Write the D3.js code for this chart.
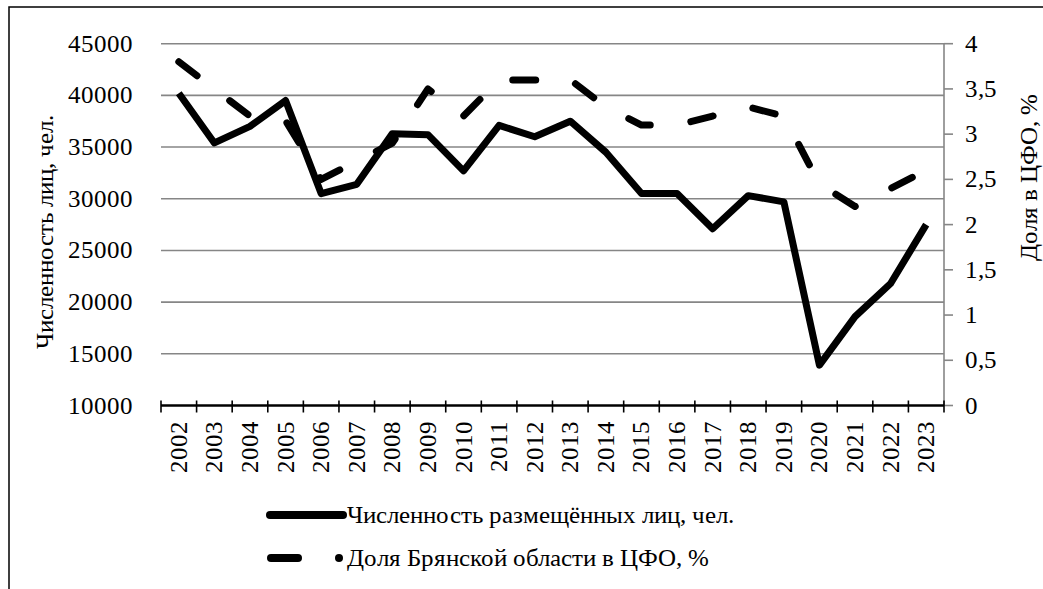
<!DOCTYPE html>
<html><head><meta charset="utf-8">
<script src="https://cdn.jsdelivr.net/npm/d3@7"></script>
<style>
@font-face { font-family: "ChartSerif"; src: local("Liberation Serif"), local("LiberationSerif"), local("LiberationSerif-Regular"), local("Times New Roman"); }
html,body{margin:0;padding:0;background:#fff;}
svg{display:block;}
svg text{font-family:"ChartSerif","Liberation Serif","Times New Roman",serif !important;}
</style></head>
<body>
<script>
const years = ["2002","2003","2004","2005","2006","2007","2008","2009","2010","2011","2012","2013","2014","2015","2016","2017","2018","2019","2020","2021","2022","2023"];
const persons = [40200,35400,37000,39500,30500,31400,36300,36200,32700,37100,36000,37500,34500,30500,30500,27100,30300,29700,13900,18600,21800,27500];
const share = [3.8,3.5,3.2,3.15,2.5,2.7,2.9,3.5,3.2,3.6,3.6,3.6,3.3,3.1,3.1,3.2,3.3,3.2,2.45,2.2,2.4,2.6];
const leftTicks = [10000,15000,20000,25000,30000,35000,40000,45000];
const rightTicks = [0,0.5,1,1.5,2,2.5,3,3.5,4];
const seriesNames = ["Численность размещённых лиц, чел.","Доля Брянской области в ЦФО, %"];
const leftTitle = "Численность лиц, чел.";
const rightTitle = "Доля в ЦФО, %";

const W = 1043, H = 589, FS = 25;
const FONT = '"ChartSerif", "Liberation Serif", "Times New Roman", serif';

const svg = d3.select("body").append("svg").attr("width",W).attr("height",H);

svg.append("rect").attr("x",9).attr("y",7).attr("width",1200).attr("height",800)
  .attr("fill","none").attr("stroke","#000").attr("stroke-width",1.5);

const x0 = 161, x1 = 944, yTop = 43.7, yBot = 405.5;
const x = d3.scaleBand().domain(years).range([x0,x1]);
const cx = d => x(d) + x.bandwidth()/2;
const yL = d3.scaleLinear().domain([10000,45000]).range([yBot,yTop]);
const yR = d3.scaleLinear().domain([0,4]).range([yBot,yTop]);

function txt(sel){ return sel.attr("font-size",FS).attr("font-family",FONT).style("font-family",FONT,"important"); }

// gridlines
svg.append("g").selectAll("line").data(leftTicks.filter(t=>t>10000)).join("line")
  .attr("x1",x0).attr("x2",x1).attr("y1",d=>yL(d)).attr("y2",d=>yL(d))
  .attr("stroke","#868686").attr("stroke-width",1.6);

// left tick labels
leftTicks.forEach(t=>{
  txt(svg.append("text").attr("x",133).attr("y",yL(t)+8).attr("text-anchor","end")).text(t);
});

// right axis
svg.append("line").attr("x1",x1).attr("x2",x1).attr("y1",yTop).attr("y2",yBot)
  .attr("stroke","#868686").attr("stroke-width",1.6);
svg.append("g").selectAll("line").data(rightTicks).join("line")
  .attr("x1",x1).attr("x2",x1+9).attr("y1",d=>yR(d)).attr("y2",d=>yR(d))
  .attr("stroke","#868686").attr("stroke-width",1.6);
rightTicks.forEach(t=>{
  txt(svg.append("text").attr("x",965).attr("y",yR(t)+8)).text(String(t).replace(".",","));
});

// x axis
svg.append("line").attr("x1",x0).attr("x2",x1).attr("y1",yBot).attr("y2",yBot)
  .attr("stroke","#000").attr("stroke-width",2.5);
const bounds = years.map(d=>x(d)).concat([x1]);
svg.append("g").selectAll("line").data(bounds).join("line")
  .attr("x1",d=>d).attr("x2",d=>d).attr("y1",yBot-5).attr("y2",yBot+7)
  .attr("stroke","#000").attr("stroke-width",1.6);
years.forEach(yv=>{
  txt(svg.append("text").attr("transform",`translate(${cx(yv)+8},421) rotate(-90)`)
    .attr("text-anchor","end")).text(yv);
});

// axis titles
txt(svg.append("text").attr("transform","translate(53,232) rotate(-90)")
  .attr("text-anchor","middle")).text(leftTitle);
txt(svg.append("text").attr("transform","translate(1037,177) rotate(-90)")
  .attr("text-anchor","middle")).text(rightTitle);

// lines
const lineL = d3.line().x((d,i)=>cx(years[i])).y(d=>yL(d));
const lineR = d3.line().x((d,i)=>cx(years[i])).y(d=>yR(d));
svg.append("path").attr("d",lineL(persons)).attr("fill","none").attr("stroke","#000")
  .attr("stroke-width",7).attr("stroke-linejoin","round").attr("stroke-linecap","butt");
svg.append("path").attr("d",lineR(share)).attr("fill","none").attr("stroke","#000")
  .attr("stroke-width",7).attr("stroke-linejoin","round").attr("stroke-linecap","round")
  .attr("stroke-dasharray","23 41");

// legend
svg.append("line").attr("x1",270).attr("x2",343).attr("y1",515).attr("y2",515)
  .attr("stroke","#000").attr("stroke-width",8).attr("stroke-linecap","round");
txt(svg.append("text").attr("x",347).attr("y",523)).text(seriesNames[0]);
svg.append("line").attr("x1",271).attr("x2",298).attr("y1",558).attr("y2",558)
  .attr("stroke","#000").attr("stroke-width",8).attr("stroke-linecap","round");
svg.append("circle").attr("cx",339).attr("cy",558).attr("r",4).attr("fill","#000");
txt(svg.append("text").attr("x",347).attr("y",566)).text(seriesNames[1]);
</script>
</body></html>
